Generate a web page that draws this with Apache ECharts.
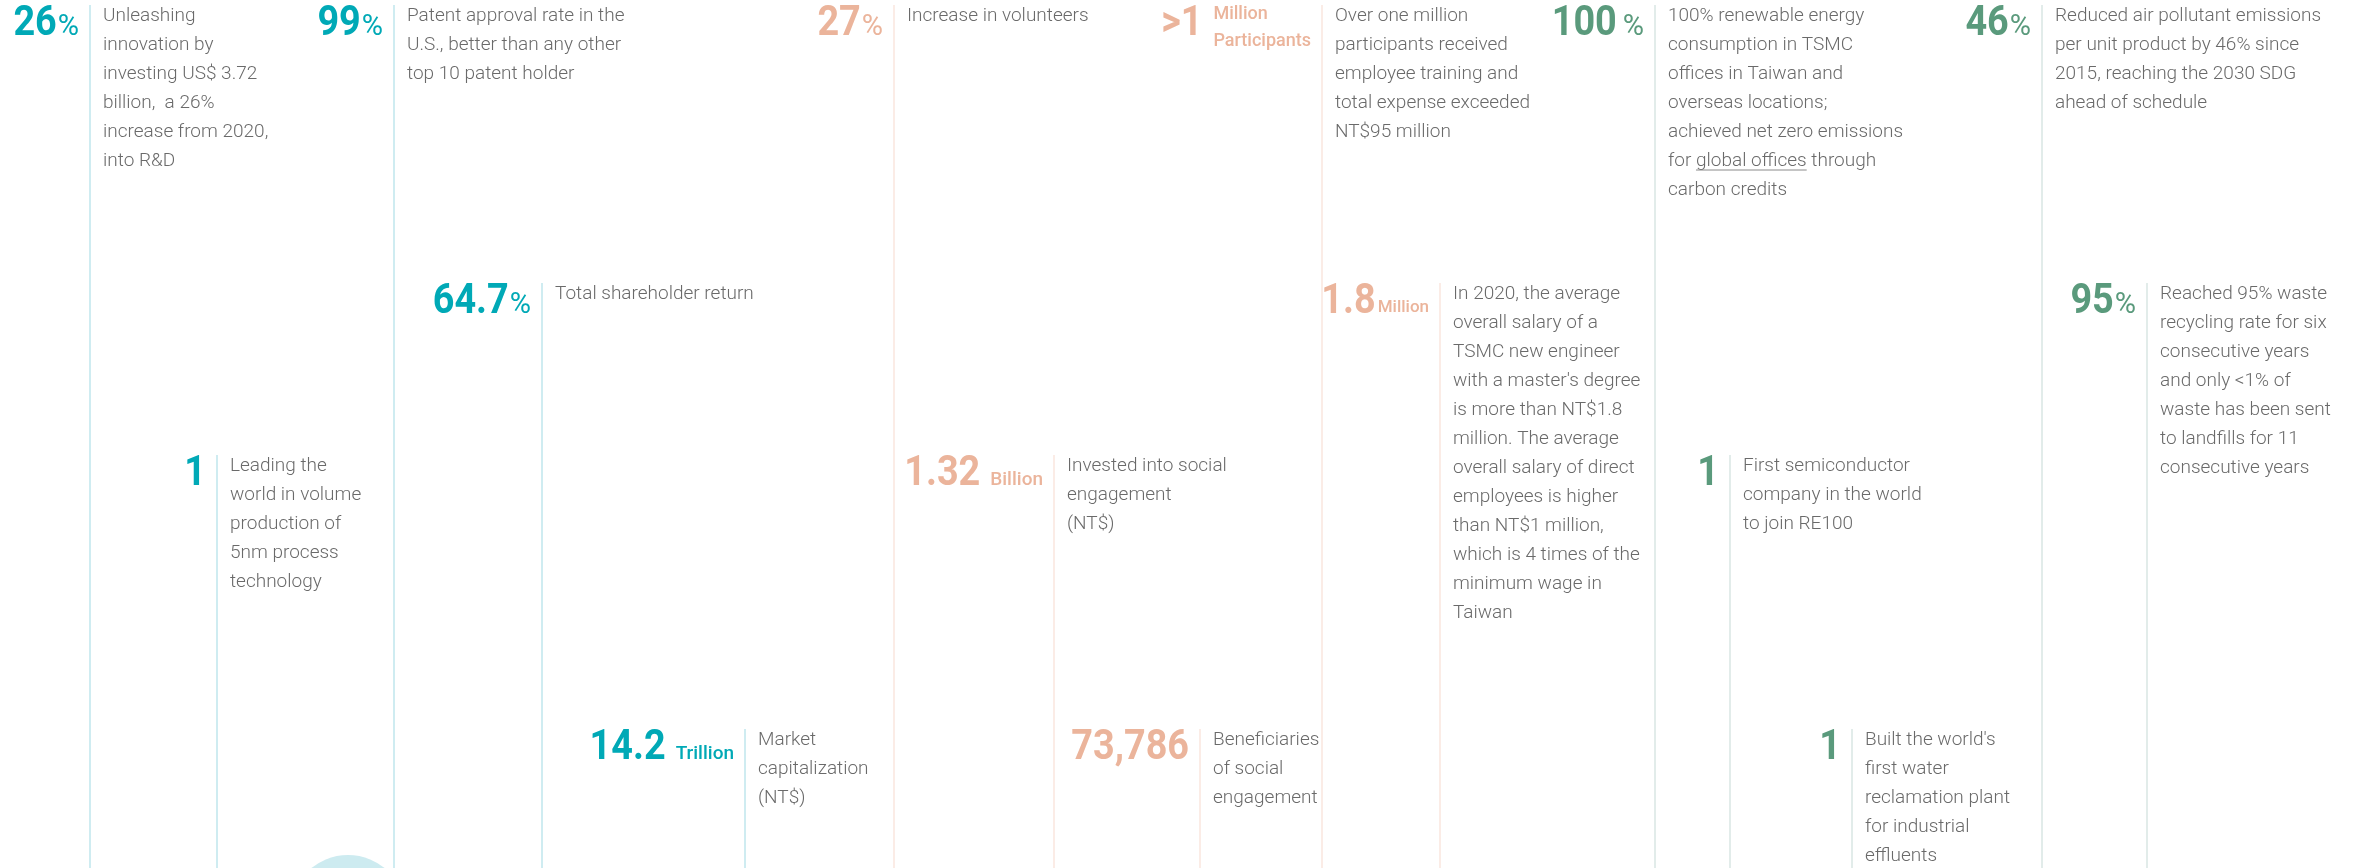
<!DOCTYPE html>
<html>
<head>
<meta charset="utf-8">
<script src="https://cdn.jsdelivr.net/npm/echarts@6/dist/echarts.min.js"></script>
<style>
html, body { margin: 0; padding: 0; background: #fff; }
#main { width: 2364px; height: 868px; }
</style>
</head>
<body>
<div id="main"></div>
<script>
var W = 2364, H = 868;

// 数值与单位
var statValues = ['26', '1', '99', '64.7', '14.2', '27', '1.32', '73,786', '>1', '1.8', '100', '1', '1', '46', '95'];
var statUnits = ['%', '', '%', '%', 'Trillion', '%', 'Billion', '', 'Million\nParticipants', 'Million', '%', '', '', '%', '%'];
// 说明文字
var statTexts = [
	['Unleashing', 'innovation by', 'investing US$ 3.72', 'billion,  a 26%', 'increase from 2020,', 'into R&D'],
	['Leading the', 'world in volume', 'production of', '5nm process', 'technology'],
	['Patent approval rate in the', 'U.S., better than any other', 'top 10 patent holder'],
	['Total shareholder return'],
	['Market', 'capitalization', '(NT$)'],
	['Increase in volunteers'],
	['Invested into social', 'engagement', '(NT$)'],
	['Beneficiaries', 'of social', 'engagement'],
	['Over one million', 'participants received', 'employee training and', 'total expense exceeded', 'NT$95 million'],
	['In 2020, the average', 'overall salary of a', 'TSMC new engineer', "with a master's degree", 'is more than NT$1.8', 'million. The average', 'overall salary of direct', 'employees is higher', 'than NT$1 million,', 'which is 4 times of the', 'minimum wage in', 'Taiwan'],
	['100% renewable energy', 'consumption in TSMC', 'offices in Taiwan and', 'overseas locations;', 'achieved net zero emissions', 'for global offices through', 'carbon credits'],
	['First semiconductor', 'company in the world', 'to join RE100'],
	["Built the world's", 'first water', 'reclamation plant', 'for industrial', 'effluents'],
	['Reduced air pollutant emissions', 'per unit product by 46% since', '2015, reaching the 2030 SDG', 'ahead of schedule'],
	['Reached 95% waste', 'recycling rate for six', 'consecutive years', 'and only <1% of', 'waste has been sent', 'to landfills for 11', 'consecutive years']
];
var statLinks = ['', '', '', '', '', '', '', '', '', '', 'global offices', '', '', '', ''];
// 0 经济 1 社会 2 环境
var statGroups = [0, 0, 0, 0, 0, 1, 1, 1, 1, 1, 2, 2, 2, 2, 2];

// 版面位置
var columnX = [90, 217, 394, 542, 745, 894, 1054, 1200, 1322, 1440, 1655, 1730, 1852, 2042, 2147];
var columnRow = [0, 2, 0, 1, 3, 0, 2, 3, 0, 1, 0, 2, 3, 0, 1];
var unitGap = [1, 0, 1, 1, 10, 1, 10, 0, 11, 2, 6, 0, 0, 1, 1];
var unitSize = [29, 0, 29, 29, 19, 29, 19, 0, 18, 17, 29, 0, 0, 29, 29];
var rowTop = [5, 283, 455, 729];
var bubble = [348, 913, 58];

var groupColor = ['#00a9b6', '#ebb49b', '#5a9a7c'];
var groupLine = ['#bfe6ec', '#fae6de', '#d9e6e3'];
var textColor = '#6a6a6a';
var FONT = 'Roboto';

var ctx = document.createElement('canvas').getContext('2d');
function textWidth(str, font) {
	ctx.font = font;
	return ctx.measureText(str).width;
}

function renderStat(params, api) {
	var i = api.value(2);
	var top = api.coord([api.value(0), api.value(1)]);
	var bottom = api.coord([api.value(0), H]);
	var L = top[0], T = top[1];
	var g = statGroups[i];
	var children = [];
	//竖线
	children.push({
		type: 'line',
		shape: { x1: L, y1: T, x2: L, y2: bottom[1] },
		style: { stroke: groupLine[g], lineWidth: 1.5 }
	});
	//单位
	var unit = statUnits[i];
	var right = L - 11;
	if (unit) {
		var size = unitSize[i], uf, uw, uy, va, lh;
		if (unit === '%') {
			uf = '400 ' + size + 'px ' + FONT; uw = textWidth(unit, uf);
			uy = T + 23; va = 'middle'; lh = size;
		} else if (unit.indexOf('\n') >= 0) {
			uf = '500 ' + size + 'px ' + FONT;
			uw = Math.max.apply(null, unit.split('\n').map(function (s) { return textWidth(s, uf); }));
			uy = T - 4.5; va = 'top'; lh = 27;
		} else {
			uf = '500 ' + size + 'px ' + FONT; uw = textWidth(unit, uf);
			uy = T + 25; va = 'middle'; lh = size;
		}
		children.push({
			type: 'text',
			style: { legacy: false, text: unit, x: right - uw, y: uy, font: uf, fill: groupColor[g], align: 'left', verticalAlign: va, lineHeight: lh }
		});
		right = right - uw - unitGap[i];
	}
	//数值
	children.push({
		type: 'text',
		x: right, y: T + 19, scaleX: 0.9, originX: 0, originY: 0,
		style: { legacy: false, text: statValues[i], x: 0, y: 0, font: '700 42px ' + FONT, fill: groupColor[g], align: 'right', verticalAlign: 'middle', lineHeight: 42 }
	});
	//说明
	var tf = '300 19px ' + FONT;
	var lines = statTexts[i];
	children.push({
		type: 'text',
		style: { legacy: false, text: lines.join('\n'), x: L + 13, y: T - 3, font: tf, fill: textColor, align: 'left', verticalAlign: 'top', lineHeight: 29 }
	});
	//下划线
	if (statLinks[i]) {
		for (var k = 0; k < lines.length; k++) {
			var pos = lines[k].indexOf(statLinks[i]);
			if (pos >= 0) {
				var x1 = L + 13 + textWidth(lines[k].substring(0, pos), tf);
				var x2 = x1 + textWidth(statLinks[i], tf);
				var y = T + 19 + k * 29 + 1;
				children.push({
					type: 'line',
					shape: { x1: x1, y1: y, x2: x2, y2: y },
					style: { stroke: '#8a8a8a', lineWidth: 1 }
				});
			}
		}
	}
	return { type: 'group', children: children };
}

function renderBubble(params, api) {
	var c = api.coord([api.value(0), api.value(1)]);
	var r = api.size([api.value(2), 0])[0];
	return { type: 'circle', shape: { cx: c[0], cy: c[1], r: r }, style: { fill: '#cdebf0' } };
}

var statData = [];
for (var i = 0; i < statValues.length; i++) {
	statData.push([columnX[i], rowTop[columnRow[i]], i]);
}

var chart = echarts.init(document.getElementById('main'), null, { renderer: 'canvas' });
var option = {
	animation: false,
	backgroundColor: '#fff',
	grid: { left: 0, right: 0, top: 0, bottom: 0 },
	xAxis: { type: 'value', min: 0, max: W, show: false },
	yAxis: { type: 'value', min: 0, max: H, inverse: true, show: false },
	series: [
		{
			type: 'custom',
			silent: true,
			clip: false,
			renderItem: renderBubble,
			data: [bubble],
			z: 1
		},
		{
			type: 'custom',
			silent: true,
			clip: false,
			renderItem: renderStat,
			data: statData,
			z: 2
		}
	]
};
chart.setOption(option);
</script>
</body>
</html>
